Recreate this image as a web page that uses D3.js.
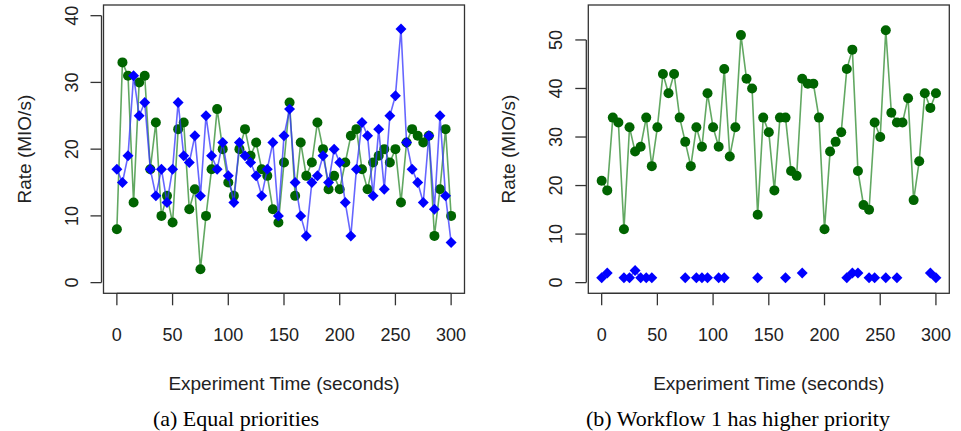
<!DOCTYPE html>
<html>
<head>
<meta charset="utf-8">
<script src="https://cdn.jsdelivr.net/npm/d3@7"></script>
<style>
  body { margin: 0; background: #fff; }
  svg { display: block; }
</style>
</head>
<body>
<script>
// Time points (seconds)
const times = [0,5,10,15,20,25,30,35,40,45,50,55,60,65,70,75,80,85,90,95,100,105,110,115,120,125,130,135,140,145,150,155,160,165,170,175,180,185,190,195,200,205,210,215,220,225,230,235,240,245,250,255,260,265,270,275,280,285,290,295,300];

// (a) Equal priorities
const leftGreen = [8,33,31,12,30,31,17,24,10,13, 9,23,24,11,14,2,10,17,26,20, 15,13,20,23,19,21,17,16,11,9, 18,27,13,21,16,18,24,20,14,16, 14,18,22,23,17,14,18,19,20,18, 20,12,21,23,22,21,22,7,14,23, 10];
const leftBlue = [17,15,19,31,25,27,17,13,17,12, 17,27,19,18,22,13,25,19,17,21, 16,12,21,19,18,16,13,17,21,10, 22,26,15,10,7,15,16,19,15,20, 18,12,7,17,24,22,13,23,14,25, 28,38,21,17,15,12,22,11,25,13, 6];

// (b) Workflow 1 has higher priority
const rightGreen = [21,19,34,33,11,32,27,28,34,24, 32,43,39,43,34,29,24,32,28,39, 32,28,44,26,32,51,42,40,14,34, 31,19,34,34,23,22,42,41,41,34, 11,27,29,31,44,48,23,16,15,33, 30,52,35,33,33,38,17,25,39,36, 39];
const rightBlue = [1,2,null,null,1,1,2.5,1,1,1, null,null,null,null,null,1,null,1,1,1, null,1,1,null,null,null,null,null,1,null, null,null,null,1,null,null,2,null,null,null, null,null,null,null,1,2,2,null,1,1, null,1,null,1,null,null,null,null,null,2, 1];

const xTicks = [0, 50, 100, 150, 200, 250, 300];
const leftYTicks = [0, 10, 20, 30, 40];
const rightYTicks = [0, 10, 20, 30, 40, 50];

const width = 961, height = 431;
const sans = "'Liberation Sans', Arial, Helvetica, sans-serif";
const serif = "'Liberation Serif', 'Times New Roman', serif";

const svg = d3.select("body").append("svg")
    .attr("width", width)
    .attr("height", height);

function drawPanel(opts) {
    const { box, yMax, yTicks, green, blue, caption, captionX } = opts;

    // R style axes: limits padded by 4%
    const x = d3.scaleLinear().domain([-12, 312]).range([box.left, box.right]);
    const yPad = yMax * 0.04;
    const y = d3.scaleLinear().domain([-yPad, yMax + yPad]).range([box.bottom, box.top]);

    const g = svg.append("g");

    // green series (line then dots)
    const greenData = times.map((t, i) => ({ t, v: green[i] }));
    const blueData = times.map((t, i) => ({ t, v: blue[i] }));

    const line = d3.line()
        .defined(d => d.v != null)
        .x(d => x(d.t))
        .y(d => y(d.v));

    g.append("path")
        .datum(greenData)
        .attr("fill", "none")
        .attr("stroke", "#2e8b2e")
        .attr("stroke-opacity", 0.75)
        .attr("stroke-width", 1.6)
        .attr("d", line);

    g.append("g")
        .selectAll("circle")
        .data(greenData.filter(d => d.v != null))
        .join("circle")
        .attr("cx", d => x(d.t))
        .attr("cy", d => y(d.v))
        .attr("r", 5)
        .attr("fill", "#006400");

    g.append("path")
        .datum(blueData)
        .attr("fill", "none")
        .attr("stroke", "#3333ff")
        .attr("stroke-opacity", 0.75)
        .attr("stroke-width", 1.6)
        .attr("d", line);

    const diamond = d3.symbol().type(d3.symbolSquare).size(60);
    g.append("g")
        .selectAll("path")
        .data(blueData.filter(d => d.v != null))
        .join("path")
        .attr("transform", d => `translate(${x(d.t)},${y(d.v)}) rotate(45)`)
        .attr("d", diamond)
        .attr("fill", "#0000ff");

    // box
    g.append("rect")
        .attr("x", box.left)
        .attr("y", box.top)
        .attr("width", box.right - box.left)
        .attr("height", box.bottom - box.top)
        .attr("fill", "none")
        .attr("stroke", "#333")
        .attr("stroke-width", 1.3);

    // x axis
    const xAxis = g.append("g").attr("transform", `translate(0,${box.bottom})`);
    xAxis.append("line")
        .attr("x1", x(0)).attr("x2", x(300))
        .attr("stroke", "#333").attr("stroke-width", 1.3);
    xAxis.selectAll("line.tick")
        .data(xTicks)
        .join("line")
        .attr("class", "tick")
        .attr("x1", d => x(d)).attr("x2", d => x(d))
        .attr("y1", 0).attr("y2", 12)
        .attr("stroke", "#333").attr("stroke-width", 1.3);
    xAxis.selectAll("text")
        .data(xTicks)
        .join("text")
        .attr("x", d => x(d))
        .attr("y", 47.5)
        .attr("text-anchor", "middle")
        .attr("font-family", sans)
        .attr("font-size", 18)
        .attr("fill", "#222")
        .text(d => d);

    // y axis
    const yAxis = g.append("g").attr("transform", `translate(${box.left - 2},0)`);
    yAxis.append("line")
        .attr("y1", y(0)).attr("y2", y(yTicks[yTicks.length - 1]))
        .attr("stroke", "#333").attr("stroke-width", 1.3);
    yAxis.selectAll("line.tick")
        .data(yTicks)
        .join("line")
        .attr("class", "tick")
        .attr("x1", 0).attr("x2", -11)
        .attr("y1", d => y(d)).attr("y2", d => y(d))
        .attr("stroke", "#333").attr("stroke-width", 1.3);
    yAxis.selectAll("text")
        .data(yTicks)
        .join("text")
        .attr("transform", d => `translate(-24,${y(d)}) rotate(-90)`)
        .attr("text-anchor", "middle")
        .attr("font-family", sans)
        .attr("font-size", 18)
        .attr("fill", "#222")
        .text(d => d);

    // axis titles
    g.append("text")
        .attr("x", (box.left + box.right) / 2)
        .attr("y", 390)
        .attr("text-anchor", "middle")
        .attr("font-family", sans)
        .attr("font-size", 19)
        .attr("fill", "#222")
        .text("Experiment Time (seconds)");

    g.append("text")
        .attr("transform", `translate(${box.left - 73},${(box.top + box.bottom) / 2}) rotate(-90)`)
        .attr("text-anchor", "middle")
        .attr("font-family", sans)
        .attr("font-size", 19)
        .attr("fill", "#222")
        .text("Rate (MIO/s)");

    // caption
    g.append("text")
        .attr("x", captionX)
        .attr("y", 426)
        .attr("text-anchor", "middle")
        .attr("font-family", serif)
        .attr("font-size", 22)
        .attr("fill", "#000")
        .text(caption);
}

drawPanel({
    box: { left: 103.5, right: 464.5, top: 5, bottom: 293.3 },
    yMax: 40,
    yTicks: leftYTicks,
    green: leftGreen,
    blue: leftBlue,
    caption: "(a) Equal priorities",
    captionX: 236
});

drawPanel({
    box: { left: 588.3, right: 949.3, top: 5, bottom: 293.3 },
    yMax: 55,
    yTicks: rightYTicks,
    green: rightGreen,
    blue: rightBlue,
    caption: "(b) Workflow 1 has higher priority",
    captionX: 738
});
</script>
</body>
</html>
